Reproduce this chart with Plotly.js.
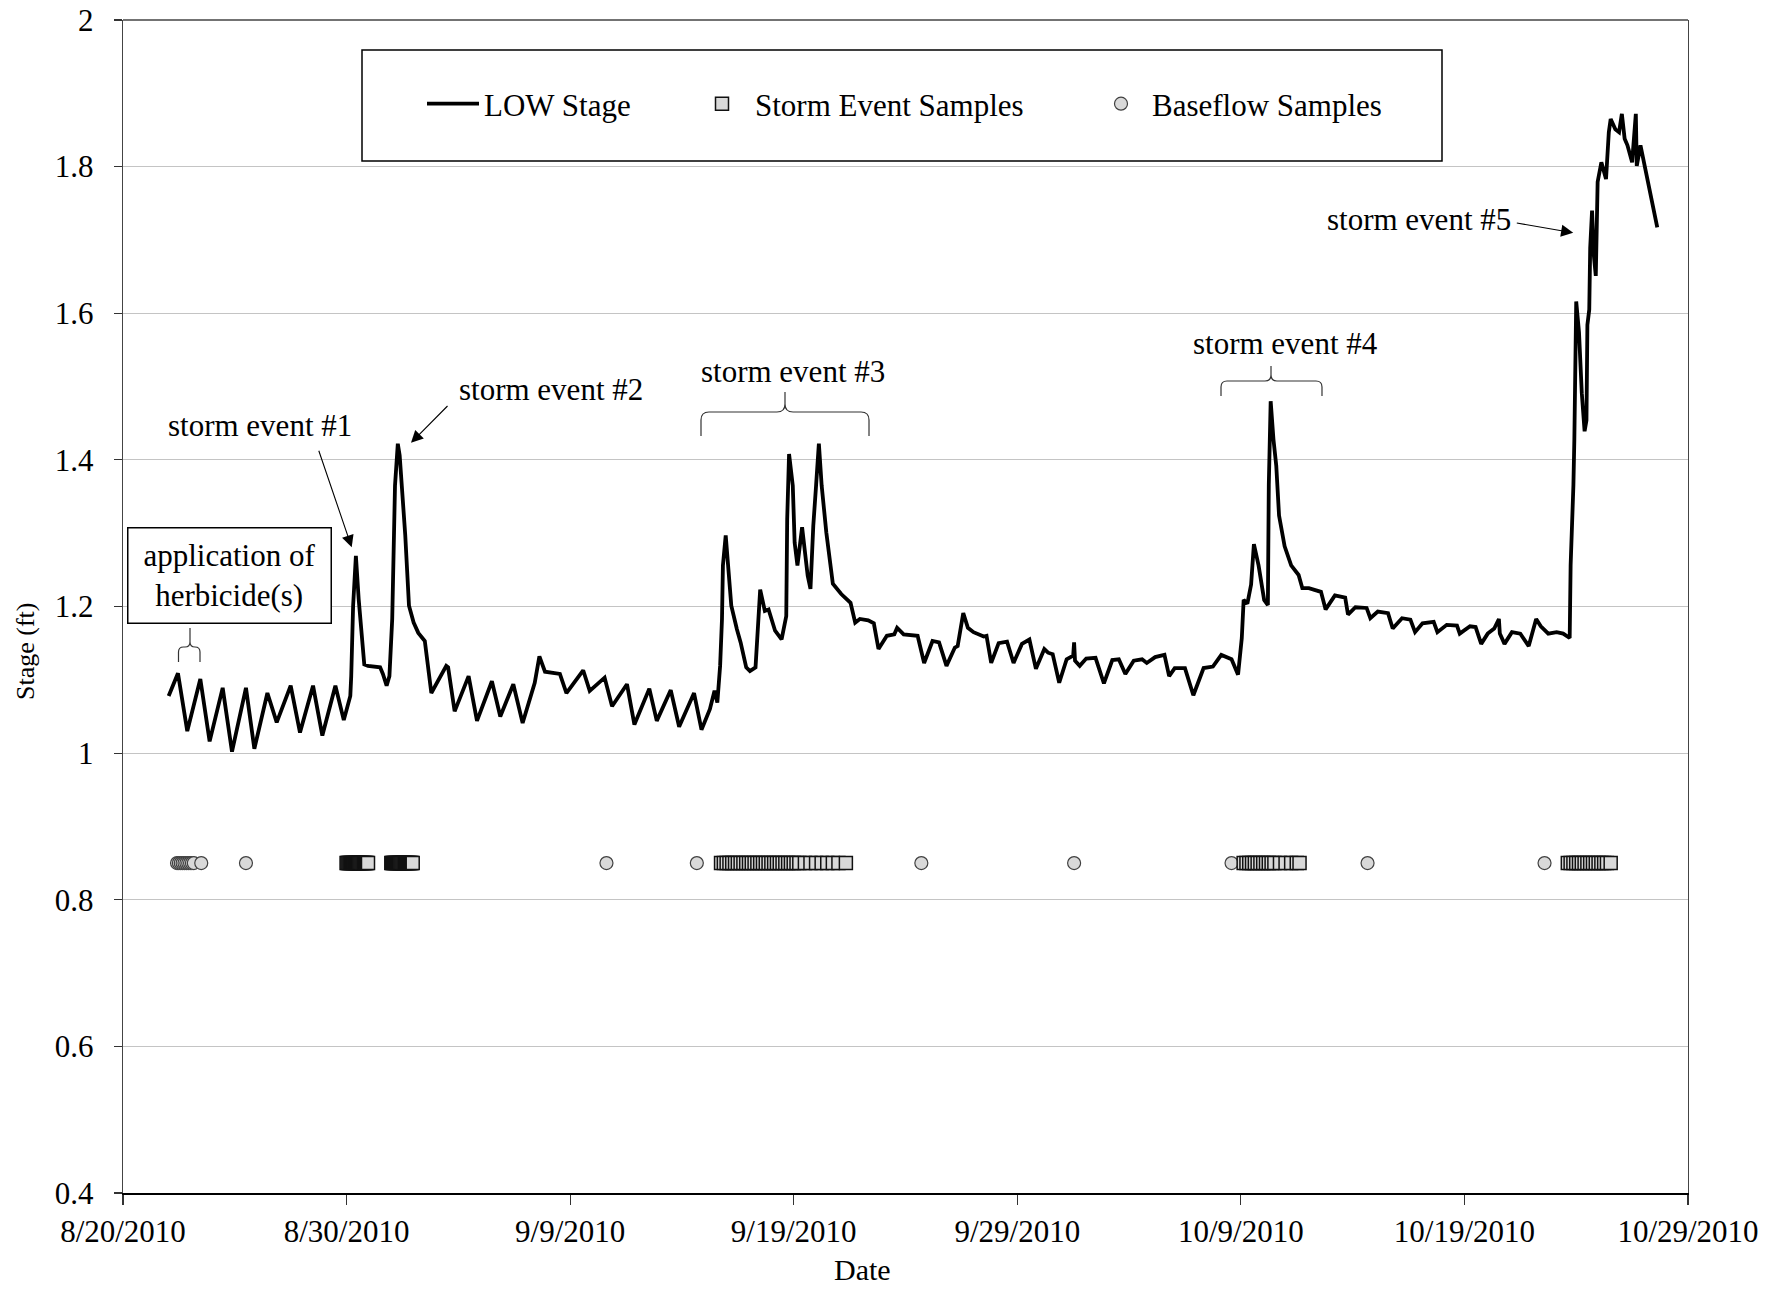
<!DOCTYPE html>
<html><head><meta charset="utf-8">
<script src="https://cdn.plot.ly/plotly-3.0.1.min.js"></script>
<style>html,body{margin:0;padding:0;background:#fff}#chart{width:1785px;height:1291px}</style>
</head><body><div id="chart"></div>
<script>
// ---- data ----
const stageTime = [
"2010-08-22 01:00","2010-08-22 11:00","2010-08-22 21:00","2010-08-23 11:00","2010-08-23 21:00",
"2010-08-24 11:00","2010-08-24 21:00","2010-08-25 12:00","2010-08-25 21:00","2010-08-26 11:00",
"2010-08-26 21:00","2010-08-27 12:00","2010-08-27 22:00","2010-08-28 12:00","2010-08-28 22:00",
"2010-08-29 12:00","2010-08-29 21:00","2010-08-30 04:00","2010-08-30 05:00","2010-08-30 07:00",
"2010-08-30 10:00","2010-08-30 13:00","2010-08-30 19:00","2010-08-30 23:00","2010-08-31 12:00",
"2010-08-31 15:00","2010-08-31 19:00","2010-08-31 22:00","2010-09-01 01:00","2010-09-01 04:00",
"2010-09-01 07:00","2010-09-01 09:00","2010-09-01 15:00","2010-09-01 19:00","2010-09-02 00:00",
"2010-09-02 05:00","2010-09-02 12:00","2010-09-02 19:00","2010-09-03 11:00","2010-09-03 13:00",
"2010-09-03 20:00","2010-09-04 11:00","2010-09-04 20:00","2010-09-05 12:00","2010-09-05 21:00",
"2010-09-06 11:00","2010-09-06 21:00","2010-09-07 10:00","2010-09-07 15:00","2010-09-07 21:00",
"2010-09-08 13:00","2010-09-08 20:00","2010-09-09 14:00","2010-09-09 21:00","2010-09-10 13:00",
"2010-09-10 21:00","2010-09-11 13:00","2010-09-11 21:00","2010-09-12 13:00","2010-09-12 21:00",
"2010-09-13 12:00","2010-09-13 21:00","2010-09-14 13:00","2010-09-14 21:00","2010-09-15 06:00",
"2010-09-15 11:00","2010-09-15 14:00","2010-09-15 17:00","2010-09-15 19:00","2010-09-15 20:00",
"2010-09-15 23:00","2010-09-16 01:00","2010-09-16 05:00","2010-09-16 11:00","2010-09-16 15:00",
"2010-09-16 21:00","2010-09-17 01:00","2010-09-17 07:00","2010-09-17 10:00","2010-09-17 12:00",
"2010-09-17 17:00","2010-09-17 21:00","2010-09-18 04:00","2010-09-18 11:00","2010-09-18 16:00",
"2010-09-18 17:00","2010-09-18 19:00","2010-09-18 23:00","2010-09-19 01:00","2010-09-19 04:00",
"2010-09-19 09:00","2010-09-19 12:00","2010-09-19 15:00","2010-09-19 18:00","2010-09-19 21:00",
"2010-09-20 00:00","2010-09-20 03:00","2010-09-20 06:00","2010-09-20 11:00","2010-09-20 18:00",
"2010-09-21 03:00","2010-09-21 13:00","2010-09-21 18:00","2010-09-21 23:00","2010-09-22 08:00",
"2010-09-22 14:00","2010-09-22 19:00","2010-09-23 04:00","2010-09-23 12:00","2010-09-23 15:00",
"2010-09-23 22:00","2010-09-24 13:00","2010-09-24 20:00","2010-09-25 05:00","2010-09-25 12:00",
"2010-09-25 20:00","2010-09-26 05:00","2010-09-26 08:00","2010-09-26 14:00","2010-09-26 19:00",
"2010-09-27 01:00","2010-09-27 12:00","2010-09-27 15:00","2010-09-27 20:00","2010-09-28 04:00",
"2010-09-28 13:00","2010-09-28 20:00","2010-09-29 05:00","2010-09-29 13:00","2010-09-29 20:00",
"2010-09-30 05:00","2010-09-30 09:00","2010-09-30 14:00","2010-09-30 21:00","2010-10-01 05:00",
"2010-10-01 12:00","2010-10-01 13:00","2010-10-01 14:00","2010-10-01 19:00","2010-10-02 02:00",
"2010-10-02 12:00","2010-10-02 21:00","2010-10-03 06:00","2010-10-03 13:00","2010-10-03 20:00",
"2010-10-04 05:00","2010-10-04 14:00","2010-10-04 19:00","2010-10-05 04:00","2010-10-05 14:00",
"2010-10-05 19:00","2010-10-06 01:00","2010-10-06 12:00","2010-10-06 21:00","2010-10-07 08:00",
"2010-10-07 18:00","2010-10-08 03:00","2010-10-08 14:00","2010-10-08 21:00","2010-10-09 01:00",
"2010-10-09 03:00","2010-10-09 07:00","2010-10-09 11:00","2010-10-09 14:00","2010-10-09 19:00",
"2010-10-10 01:00","2010-10-10 05:00","2010-10-10 06:00","2010-10-10 08:00","2010-10-10 11:00",
"2010-10-10 14:00","2010-10-10 17:00","2010-10-10 23:00","2010-10-11 06:00","2010-10-11 14:00",
"2010-10-11 18:00","2010-10-12 01:00","2010-10-12 14:00","2010-10-12 19:00","2010-10-13 05:00",
"2010-10-13 16:00","2010-10-13 19:00","2010-10-14 03:00","2010-10-14 15:00","2010-10-14 19:00",
"2010-10-15 03:00","2010-10-15 14:00","2010-10-15 19:00","2010-10-16 05:00","2010-10-16 14:00",
"2010-10-16 19:00","2010-10-17 03:00","2010-10-17 15:00","2010-10-17 19:00","2010-10-18 05:00",
"2010-10-18 16:00","2010-10-18 19:00","2010-10-19 06:00","2010-10-19 12:00","2010-10-19 18:00",
"2010-10-20 01:00","2010-10-20 08:00","2010-10-20 13:00","2010-10-20 14:00","2010-10-20 19:00",
"2010-10-21 03:00","2010-10-21 12:00","2010-10-21 21:00","2010-10-22 05:00","2010-10-22 10:00",
"2010-10-22 18:00","2010-10-23 03:00","2010-10-23 10:00","2010-10-23 17:00","2010-10-23 18:00",
"2010-10-23 21:00","2010-10-23 22:00","2010-10-24 00:00","2010-10-24 03:00","2010-10-24 06:00",
"2010-10-24 09:00","2010-10-24 11:00","2010-10-24 12:00","2010-10-24 14:00","2010-10-24 15:00",
"2010-10-24 17:00","2010-10-24 19:00","2010-10-24 21:00","2010-10-24 23:00","2010-10-25 03:00",
"2010-10-25 08:00","2010-10-25 11:00","2010-10-25 13:00","2010-10-25 18:00","2010-10-25 22:00",
"2010-10-26 01:00","2010-10-26 04:00","2010-10-26 07:00","2010-10-26 12:00","2010-10-26 16:00",
"2010-10-26 17:00","2010-10-26 21:00","2010-10-27 15:00"
];
const stageValue = [
1.078,1.109,1.030,1.101,1.016,
1.089,1.002,1.089,1.006,1.082,
1.042,1.092,1.028,1.092,1.024,
1.092,1.045,1.078,1.105,1.200,
1.269,1.210,1.121,1.119,1.117,
1.108,1.092,1.105,1.183,1.365,
1.422,1.406,1.297,1.201,1.178,
1.164,1.153,1.082,1.119,1.117,
1.057,1.105,1.044,1.098,1.050,
1.094,1.041,1.096,1.132,1.111,
1.108,1.082,1.113,1.085,1.103,
1.064,1.094,1.039,1.088,1.044,
1.086,1.036,1.082,1.032,1.060,
1.085,1.069,1.119,1.183,1.256,
1.297,1.265,1.201,1.169,1.151,
1.117,1.112,1.117,1.187,1.223,
1.194,1.196,1.167,1.155,1.187,
1.319,1.408,1.365,1.287,1.256,
1.308,1.278,1.242,1.224,1.310,
1.365,1.422,1.365,1.301,1.231,
1.217,1.205,1.178,1.183,1.181,
1.177,1.142,1.160,1.162,1.171,
1.162,1.160,1.123,1.153,1.151,
1.119,1.144,1.146,1.191,1.171,
1.165,1.159,1.160,1.123,1.150,
1.152,1.123,1.149,1.155,1.115,
1.142,1.137,1.135,1.096,1.128,
1.133,1.151,1.126,1.119,1.129,
1.130,1.095,1.127,1.128,1.108,
1.126,1.128,1.123,1.131,1.134,
1.105,1.116,1.116,1.079,1.116,
1.118,1.134,1.128,1.107,1.157,
1.209,1.204,1.230,1.285,1.256,
1.209,1.202,1.366,1.480,1.428,
1.392,1.324,1.282,1.256,1.243,
1.225,1.225,1.220,1.196,1.215,
1.212,1.189,1.199,1.198,1.184,
1.193,1.191,1.170,1.184,1.182,
1.165,1.177,1.179,1.165,1.175,
1.174,1.163,1.173,1.172,1.149,
1.163,1.170,1.183,1.163,1.149,
1.165,1.163,1.146,1.183,1.173,
1.163,1.165,1.163,1.157,1.256,
1.366,1.428,1.616,1.574,1.491,
1.439,1.454,1.584,1.605,1.689,
1.740,1.678,1.651,1.779,1.806,
1.783,1.847,1.865,1.851,1.847,
1.872,1.838,1.829,1.806,1.872,
1.801,1.829,1.717
];
const stormSampleTime = [
"2010-08-30 00:00","2010-08-30 01:00","2010-08-30 02:00","2010-08-30 03:00","2010-08-30 04:00","2010-08-30 05:00",
"2010-08-30 06:00","2010-08-30 07:00","2010-08-30 08:00","2010-08-30 09:00","2010-08-30 10:00","2010-08-30 11:00",
"2010-08-30 12:00","2010-08-30 13:00","2010-08-30 14:00","2010-08-30 15:00","2010-08-30 16:00","2010-08-30 17:00",
"2010-08-30 18:00","2010-08-30 19:00","2010-08-30 20:00","2010-08-30 21:00","2010-08-30 22:00","2010-08-30 23:00",
"2010-09-01 00:00","2010-09-01 01:00","2010-09-01 02:00","2010-09-01 03:00","2010-09-01 04:00","2010-09-01 05:00",
"2010-09-01 06:00","2010-09-01 07:00","2010-09-01 08:00","2010-09-01 09:00","2010-09-01 10:00","2010-09-01 11:00",
"2010-09-01 12:00","2010-09-01 13:00","2010-09-01 14:00","2010-09-01 15:00","2010-09-01 16:00","2010-09-01 17:00",
"2010-09-01 18:00","2010-09-01 19:00","2010-09-01 20:00","2010-09-01 21:00","2010-09-01 22:00","2010-09-01 23:00",
"2010-09-15 18:00","2010-09-15 21:00","2010-09-16 00:00","2010-09-16 03:00","2010-09-16 06:00","2010-09-16 09:00",
"2010-09-16 12:00","2010-09-16 15:00","2010-09-16 18:00","2010-09-16 21:00","2010-09-17 00:00","2010-09-17 03:00",
"2010-09-17 06:00","2010-09-17 09:00","2010-09-17 12:00","2010-09-17 15:00","2010-09-17 18:00","2010-09-17 21:00",
"2010-09-18 00:00","2010-09-18 03:00","2010-09-18 06:00","2010-09-18 09:00","2010-09-18 12:00","2010-09-18 15:00",
"2010-09-18 18:00","2010-09-18 21:00","2010-09-19 00:00","2010-09-19 03:00","2010-09-19 06:00","2010-09-19 12:00",
"2010-09-19 18:00","2010-09-20 00:00","2010-09-20 06:00","2010-09-20 12:00","2010-09-20 18:00","2010-09-21 00:00",
"2010-09-21 08:00",
"2010-10-09 03:00","2010-10-09 06:00","2010-10-09 09:00","2010-10-09 12:00","2010-10-09 15:00","2010-10-09 18:00",
"2010-10-09 21:00","2010-10-10 00:00","2010-10-10 03:00","2010-10-10 06:00","2010-10-10 09:00","2010-10-10 12:00",
"2010-10-10 18:00","2010-10-11 00:00","2010-10-11 06:00","2010-10-11 12:00","2010-10-11 15:00",
"2010-10-23 15:00","2010-10-23 18:00","2010-10-23 21:00","2010-10-24 00:00","2010-10-24 03:00","2010-10-24 06:00",
"2010-10-24 09:00","2010-10-24 12:00","2010-10-24 15:00","2010-10-24 18:00","2010-10-24 21:00","2010-10-25 00:00",
"2010-10-25 03:00","2010-10-25 06:00","2010-10-25 09:00","2010-10-25 13:00"
];
const baseflowSampleTime = [
"2010-08-22 10:00","2010-08-22 12:00","2010-08-22 14:00","2010-08-22 16:00","2010-08-22 18:00","2010-08-22 20:00",
"2010-08-22 22:00","2010-08-23 00:00","2010-08-23 02:00","2010-08-23 04:00","2010-08-23 12:00",
"2010-08-25 12:00","2010-09-10 15:00","2010-09-14 16:00","2010-09-24 17:00","2010-10-01 13:00",
"2010-10-08 14:00","2010-10-14 16:00","2010-10-22 14:00"
];
const sampleLevel = 0.85;
const xTickVals = ["2010-08-20","2010-08-30","2010-09-09","2010-09-19","2010-09-29","2010-10-09","2010-10-19","2010-10-29"];
const xTickText = ["8/20/2010","8/30/2010","9/9/2010","9/19/2010","9/29/2010","10/9/2010","10/19/2010","10/29/2010"];
const seriesNames = ["LOW Stage","Storm Event Samples","Baseflow Samples"];
const axisTitles = ["Date","Stage (ft)"];
const noteTexts = ["application of<br>herbicide(s)","storm event #1","storm event #2","storm event #3","storm event #4","storm event #5"];

// ---- layout geometry (pixels of the 1785x1291 page) ----
const M = {l:123, r:97, t:20, b:98};
const PW = 1785 - M.l - M.r, PH = 1291 - M.t - M.b;
const px = x => (x - M.l) / PW;
const py = y => (1291 - M.b - y) / PH;
const FONT = "Liberation Serif, Times New Roman, serif";

function brace(xl, xr, xt, yTop, yMid, yBot, r) {
  const P = (x, y) => px(x).toFixed(5) + "," + py(y).toFixed(5);
  return "M" + P(xl, yBot) + " L" + P(xl, yMid + r) + " Q" + P(xl, yMid) + " " + P(xl + r, yMid) +
    " L" + P(xt - r, yMid) + " Q" + P(xt, yMid) + " " + P(xt, yMid - r) + " L" + P(xt, yTop) +
    " M" + P(xt, yMid - r) + " Q" + P(xt, yMid) + " " + P(xt + r, yMid) +
    " L" + P(xr - r, yMid) + " Q" + P(xr, yMid) + " " + P(xr, yMid + r) + " L" + P(xr, yBot);
}
function note(text, cx, cy, extra) {
  return Object.assign({xref:"paper", yref:"paper", x:px(cx), y:py(cy), text:text, showarrow:false,
    xanchor:"center", yanchor:"middle", font:{family:FONT, size:31, color:"#000"}}, extra || {});
}
function arrow(tipX, tipY, tailX, tailY) {
  return {xref:"paper", yref:"paper", x:px(tipX), y:py(tipY), ax:tailX - tipX, ay:tailY - tipY,
    axref:"pixel", ayref:"pixel", text:"", showarrow:true, arrowhead:2, arrowsize:2.2,
    arrowwidth:1.1, arrowcolor:"#000", standoff:0, startstandoff:0};
}

const traces = [
  {type:"scatter", mode:"lines", name:seriesNames[0], x:stageTime, y:stageValue,
   line:{color:"#000", width:3.8}, legend:"legend", hoverinfo:"x+y"},
  {type:"scatter", mode:"markers", name:seriesNames[2], x:baseflowSampleTime,
   y:baseflowSampleTime.map(() => sampleLevel),
   marker:{symbol:"circle", size:13, color:"#d9d9d9", line:{color:"#404040", width:1.2}}, legend:"legend3"},
  {type:"scatter", mode:"markers", name:seriesNames[1], x:stormSampleTime,
   y:stormSampleTime.map(() => sampleLevel),
   marker:{symbol:"square", size:13, color:"#d9d9d9", line:{color:"#111", width:1.5}}, legend:"legend2"}
];

const legendBase = {orientation:"h", xanchor:"left", yanchor:"middle", y:py(104),
  bgcolor:"rgba(0,0,0,0)", borderwidth:0, font:{family:FONT, size:31, color:"#000"}};

const layout = {
  width:1785, height:1291, margin:M, paper_bgcolor:"#fff", plot_bgcolor:"#fff",
  font:{family:FONT, color:"#000"},
  showlegend:true,
  legend:Object.assign({}, legendBase, {x:px(422), itemwidth:52}),
  legend2:Object.assign({}, legendBase, {x:px(689), itemwidth:56}),
  legend3:Object.assign({}, legendBase, {x:px(1090), itemwidth:52}),
  xaxis:{type:"date", range:["2010-08-20","2010-10-29"], tickvals:xTickVals, ticktext:xTickText,
    ticks:"outside", ticklen:10, tickcolor:"#333", tickwidth:1.2,
    showline:true, linecolor:"#000", linewidth:2, mirror:false, showgrid:false, zeroline:false,
    tickfont:{family:FONT, size:31, color:"#000"}, ticklabelstandoff:0},
  yaxis:{range:[0.4, 2], tick0:0.4, dtick:0.2, showgrid:true, gridcolor:"#c4c4c4", gridwidth:1.2,
    ticks:"outside", ticklen:8, tickcolor:"#333", tickwidth:1.2,
    showline:true, linecolor:"#444", linewidth:1.3, mirror:true, zeroline:false,
    tickfont:{family:FONT, size:31, color:"#000"}, ticklabelstandoff:14},
  shapes:[
    {type:"line", xref:"paper", yref:"paper", x0:0, x1:1, y0:1, y1:1, line:{color:"#444", width:1.3}},
    {type:"rect", xref:"paper", yref:"paper", x0:px(362), x1:px(1442), y0:py(161), y1:py(50),
     line:{color:"#000", width:1.5}, fillcolor:"rgba(0,0,0,0)"},
    {type:"path", xref:"paper", yref:"paper", path:brace(178.5, 200, 190, 628, 647, 662, 5), line:{color:"#333", width:1.2}},
    {type:"path", xref:"paper", yref:"paper", path:brace(701, 869, 785, 392, 412, 436, 8), line:{color:"#333", width:1.2}},
    {type:"path", xref:"paper", yref:"paper", path:brace(1221, 1322, 1271, 366, 381, 396, 6), line:{color:"#333", width:1.2}}
  ],
  annotations:[
    note(axisTitles[0], 862, 1269, {font:{family:FONT, size:30, color:"#000"}}),
    note(axisTitles[1], 25, 652, {textangle:-90, font:{family:FONT, size:26, color:"#000"}}),
    note(noteTexts[0], 229.4, 575.5, {bordercolor:"#000", borderwidth:1.5, borderpad:6, width:190, height:82, bgcolor:"#fff"}),
    note(noteTexts[1], 259.6, 425.8),
    note(noteTexts[2], 551, 389.3),
    note(noteTexts[3], 792.5, 371),
    note(noteTexts[4], 1285.5, 343),
    note(noteTexts[5], 1418.8, 219),
    arrow(351.7, 547.3, 318.3, 449.3),
    arrow(411, 442.8, 449, 404.5),
    arrow(1573.2, 232.8, 1515.3, 222.8)
  ]
};

Plotly.newPlot("chart", traces, layout, {staticPlot:true, displayModeBar:false});
</script>
</body></html>
